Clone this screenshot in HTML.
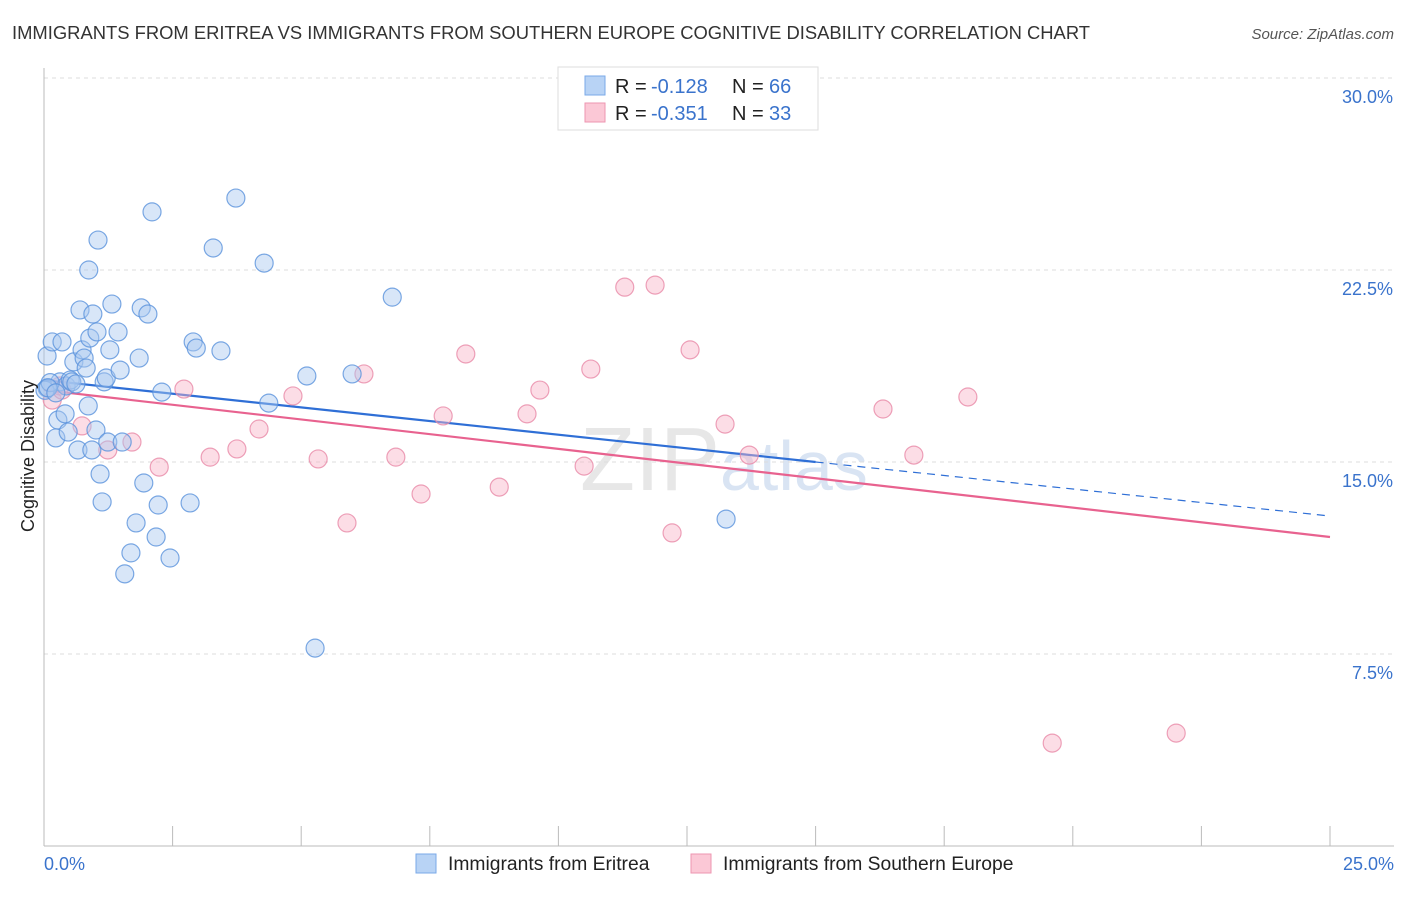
<!DOCTYPE html>
<html><head><meta charset="utf-8"><style>
body{margin:0;background:#fff;font-family:"Liberation Sans",sans-serif}
svg text{font-family:"Liberation Sans",sans-serif}
</style></head><body>
<svg id="chart" width="1406" height="892" xmlns="http://www.w3.org/2000/svg">
<text x="12" y="39" font-size="18.4" fill="#333">IMMIGRANTS FROM ERITREA VS IMMIGRANTS FROM SOUTHERN EUROPE COGNITIVE DISABILITY CORRELATION CHART</text>
<text x="1394" y="39" font-size="15" fill="#555" font-style="italic" text-anchor="end">Source: ZipAtlas.com</text>
<text x="720" y="490" font-size="90" fill="#ddd" font-family="Liberation Serif" text-anchor="end" opacity="0.7">ZIP</text>
<text x="720" y="490" font-size="70" fill="#c9d9ef" opacity="0.7">atlas</text>
<g id="grid"></g><g id="axes"></g><g id="trends"></g><g id="pts"></g>
<text transform="translate(34,456) rotate(-90)" font-size="18" fill="#222" text-anchor="middle">Cognitive Disability</text>
<g>
<rect x="558" y="67" width="260" height="63" fill="#fff" stroke="#ddd"/>
<rect x="585" y="76" width="20" height="19" fill="#b8d3f5" stroke="#7aaae8"/>
<rect x="585" y="103" width="20" height="19" fill="#fbc8d6" stroke="#ee96b0"/>
<text x="615" y="93" font-size="20" fill="#222">R =</text>
<text x="651" y="93" font-size="20" fill="#3a73cc">-0.128</text>
<text x="732" y="93" font-size="20" fill="#222">N =</text>
<text x="769" y="93" font-size="20" fill="#3a73cc">66</text>
<text x="615" y="120" font-size="20" fill="#222">R =</text>
<text x="651" y="120" font-size="20" fill="#3a73cc">-0.351</text>
<text x="732" y="120" font-size="20" fill="#222">N =</text>
<text x="769" y="120" font-size="20" fill="#3a73cc">33</text>
</g>
<g>
<rect x="416" y="854" width="20" height="19" fill="#b8d3f5" stroke="#7aaae8"/>
<text x="448" y="870" font-size="19.3" fill="#222">Immigrants from Eritrea</text>
<rect x="691" y="854" width="20" height="19" fill="#fbc8d6" stroke="#ee96b0"/>
<text x="723" y="870" font-size="19.3" fill="#222">Immigrants from Southern Europe</text>
</g>
</svg>
<script>
const blueX=[0.06,0.06,0.16,0.23,0.27,0.31,0.35,0.41,0.43,0.47,0.51,0.54,0.58,0.62,0.66,0.70,0.74,0.78,0.82,0.86,0.87,0.89,0.93,0.95,1.01,1.03,1.05,1.09,1.13,1.17,1.21,1.24,1.28,1.32,1.44,1.48,1.52,1.57,1.69,1.79,1.85,1.89,1.94,2.02,2.10,2.18,2.22,2.29,2.45,2.84,2.90,2.96,3.29,3.44,3.73,4.28,4.37,5.11,5.27,5.99,6.77,13.26,0.02,0.12,0.08,0.23];
const blueY=[19.14,17.89,19.69,15.94,16.64,18.13,19.69,16.88,17.97,16.17,18.20,18.13,18.91,18.05,15.47,20.94,19.38,19.06,18.67,17.19,22.50,19.84,15.47,20.78,16.25,20.08,23.67,14.53,13.44,18.13,18.28,15.78,19.38,21.17,20.08,18.59,15.78,10.63,11.45,12.62,19.06,21.02,14.18,20.78,24.77,12.07,13.32,17.73,11.25,13.40,19.69,19.45,23.36,19.34,25.31,22.77,17.30,18.36,7.73,18.44,21.44,12.77,17.8,18.1,17.9,17.7];
const pinkX=[0.16,0.31,0.35,0.74,1.24,1.71,2.24,2.72,3.23,3.75,4.18,4.84,5.33,5.89,6.22,6.84,7.33,7.76,8.20,8.85,9.39,9.64,10.50,10.63,11.29,11.88,12.21,12.56,13.24,13.71,16.31,16.91,17.96,19.60,22.01];
const pinkY=[17.42,17.97,17.81,16.41,15.47,15.78,14.80,17.85,15.19,15.51,16.29,17.58,15.12,12.62,18.44,15.19,13.75,16.80,19.22,14.02,16.88,17.81,14.84,18.63,21.83,21.91,12.23,19.38,16.48,15.27,17.07,15.27,17.54,4.02,4.41];
const blueTrendX=[0,15,25];
const blueTrendY=[18.2,15.0,12.89];
const pinkTrendX=[0,25];
const pinkTrendY=[17.81,12.07];
const yTicks=[7.5,15,22.5,30];
const yTickLabels=["7.5%","15.0%","22.5%","30.0%"];
const xTicks=[0,2.5,5,7.5,10,12.5,15,17.5,20,22.5,25];

const NS="http://www.w3.org/2000/svg";
const sx=v=>44+v/25*1286;
const sy=v=>846-v/7.5*192;
function mk(parent,tag,attrs){const e=document.createElementNS(NS,tag);for(const k in attrs)e.setAttribute(k,attrs[k]);document.getElementById(parent).appendChild(e);return e;}
yTicks.forEach((t,i)=>{
  const g=mk('grid','line',{x1:44,x2:1394,y1:sy(t),y2:sy(t),stroke:'#ddd','stroke-dasharray':'4,4'});
  
  
  const tx=mk('grid','text',{x:1393,y:sy(t)+25,'font-size':18,fill:'#3a73cc','text-anchor':'end'});
  tx.textContent=yTickLabels[i];
  
  
});
const ax=mk('axes','line',{x1:44,x2:44,y1:68,y2:846,stroke:'#bbb'});


const bx=mk('axes','line',{x1:44,x2:1394,y1:846,y2:846,stroke:'#bbb'});


xTicks.forEach(t=>{
  const l=mk('axes','line',{x1:sx(t),x2:sx(t),y1:826,y2:846,stroke:'#bbb'});
  
  
});
const x0=mk('axes','text',{x:44,y:870,'font-size':18,fill:'#3a73cc'});x0.textContent='0.0%';


const x1=mk('axes','text',{x:1394,y:870,'font-size':18,fill:'#3a73cc','text-anchor':'end'});x1.textContent='25.0%';



function pts(X,Y,fill,stroke,name){
  X.forEach((x,i)=>{
    const c=mk('pts','circle',{cx:sx(x),cy:sy(Y[i]),r:9,fill:fill,'fill-opacity':0.45,stroke:stroke,'stroke-width':1.2,'stroke-opacity':0.8});
    
    
  });
}
pts(pinkX,pinkY,'#f8b4c8','#e88aa8','point-southern-europe');
pts(blueX,blueY,'#a8c8f0','#5a92dc','point-eritrea');

const b1=mk('trends','line',{x1:sx(blueTrendX[0]),y1:sy(blueTrendY[0]),x2:sx(blueTrendX[1]),y2:sy(blueTrendY[1]),stroke:'#2f6fd6','stroke-width':2.2});


const b2=mk('trends','line',{x1:sx(blueTrendX[1]),y1:sy(blueTrendY[1]),x2:sx(blueTrendX[2]),y2:sy(blueTrendY[2]),stroke:'#2f6fd6','stroke-width':1.2,'stroke-dasharray':'8,6'});


const p1=mk('trends','line',{x1:sx(pinkTrendX[0]),y1:sy(pinkTrendY[0]),x2:sx(pinkTrendX[1]),y2:sy(pinkTrendY[1]),stroke:'#e8628f','stroke-width':2.2});


</script>
</body></html>
